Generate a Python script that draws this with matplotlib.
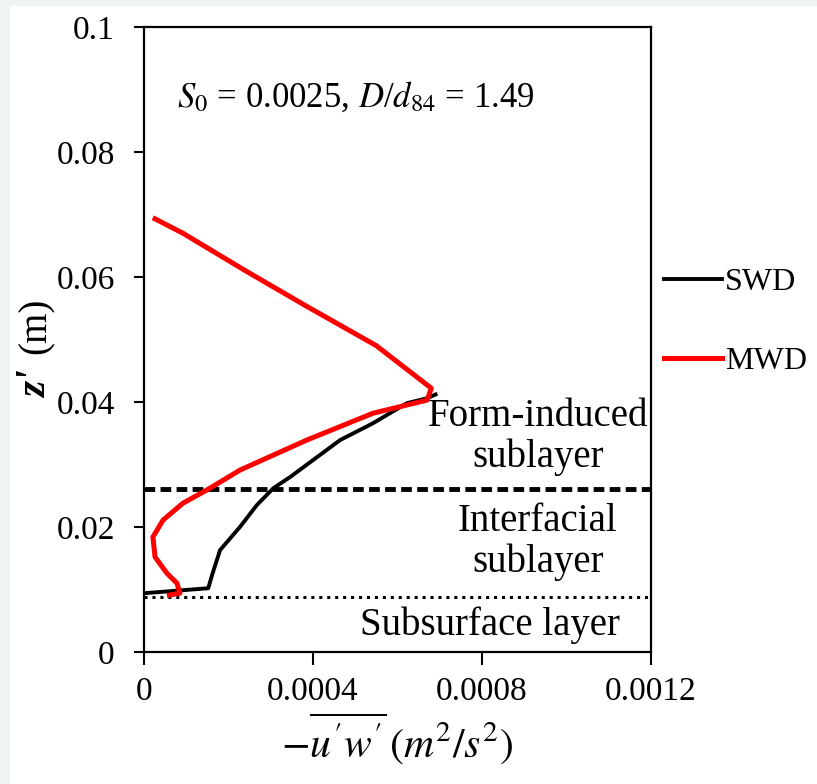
import numpy as np
import matplotlib
matplotlib.use("Agg")
from matplotlib import pyplot as plt
from matplotlib.patches import Rectangle

plt.rcParams['font.family'] = ['Liberation Serif', 'DejaVu Serif']
plt.rcParams['mathtext.fontset'] = 'stix'

# MWD profile (red)
mwd_uw = [0.000026, 0.000092, 0.00024, 0.00038, 0.00055, 0.00068, 0.00067,
          0.000542, 0.000385, 0.000306, 0.000227, 0.000156, 0.000092,
          0.000045, 0.000021, 0.000026, 0.000054, 0.000078, 0.000085, 0.00006]
mwd_z = [0.0693, 0.0670, 0.0610, 0.0555, 0.0490, 0.0422, 0.0403,
         0.0382, 0.0339, 0.0315, 0.0291, 0.0262, 0.0238,
         0.0211, 0.0184, 0.0152, 0.0126, 0.0110, 0.0094, 0.0091]

# SWD profile (black)
swd_uw = [0.0, 0.000152, 0.000161, 0.00018, 0.000227, 0.000267, 0.000306,
          0.000346, 0.0004, 0.000464, 0.000542, 0.000622, 0.00067, 0.00069]
swd_z = [0.0094, 0.0102, 0.0123, 0.0163, 0.0200, 0.0235, 0.0262,
         0.0280, 0.0307, 0.0339, 0.0366, 0.0398, 0.0406, 0.0412]

z_form = 0.026
z_sub = 0.0088

xticks = [0, 0.0004, 0.0008, 0.0012]
xtick_labels = ['0', '0.0004', '0.0008', '0.0012']
yticks = [0, 0.02, 0.04, 0.06, 0.08, 0.1]
ytick_labels = ['0', '0.02', '0.04', '0.06', '0.08', '0.1']

fig = plt.figure(figsize=(8.17, 7.84), dpi=100)
fig.patch.set_facecolor('#eef3f3')
fig.patches.append(Rectangle((10 / 817, 0), 1, 1 - 6 / 784, transform=fig.transFigure,
                             facecolor='white', edgecolor='none', zorder=-10))
ax = fig.add_axes([0.1763, 0.1684, 0.6205, 0.7972])
ax.set_zorder(1)

ax.plot(swd_uw, swd_z, color='black', lw=2.8, label='SWD', zorder=3)
ax.plot(mwd_uw, mwd_z, color='red', lw=3.6, label='MWD', zorder=4)
ax.axhline(z_form, color='black', lw=3.5, dashes=(2.2, 1.1), zorder=2)
ax.axhline(z_sub, color='black', lw=2.2, dashes=(1.0, 1.6), zorder=2)

ax.set_xlim(0, 0.0012)
ax.set_ylim(0, 0.1)
ax.set_xticks(xticks)
ax.set_xticklabels(xtick_labels)
ax.set_yticks(yticks)
ax.set_yticklabels(ytick_labels)
ax.tick_params(axis='x', direction='out', length=9, width=1.5, pad=9, labelsize=24)
ax.tick_params(axis='y', direction='out', length=7, width=1.5, pad=14, labelsize=24)
for s in ax.spines.values():
    s.set_linewidth(1.6)

ax.text(0.000502, 0.0888, r"$S_0$ = 0.0025, $D$/$d_{84}$ = 1.49", ha='center', va='center', fontsize=25)
ax.text(0.000932, 0.0344, "Form-induced\nsublayer", ha='center', va='center', fontsize=28, linespacing=1.15)
ax.text(0.000932, 0.0176, "Interfacial\nsublayer", ha='center', va='center', fontsize=28, linespacing=1.15)
ax.text(0.000819, 0.0043, "Subsurface layer", ha='center', va='center', fontsize=28)

ax.set_xlabel(r"$-\overline{u'w'}\,\left(m^2/s^2\right)$", fontsize=30, labelpad=2)

# y label: bold italic z' plus (m)
fig.text(36 / 817, 1 - 384 / 784, "z'", rotation=90, fontsize=30, fontweight='bold',
         style='italic', ha='center', va='center')
fig.text(36 / 817, 1 - 326 / 784, "(m)", rotation=90, fontsize=28, ha='center', va='center')

ax.legend(loc='upper left', bbox_to_anchor=(1.026, 0.615), frameon=False, fontsize=23,
          handlelength=1.8, handletextpad=0.1, labelspacing=1.56, borderpad=0, borderaxespad=0)

fig.savefig('out.png', dpi=100)
